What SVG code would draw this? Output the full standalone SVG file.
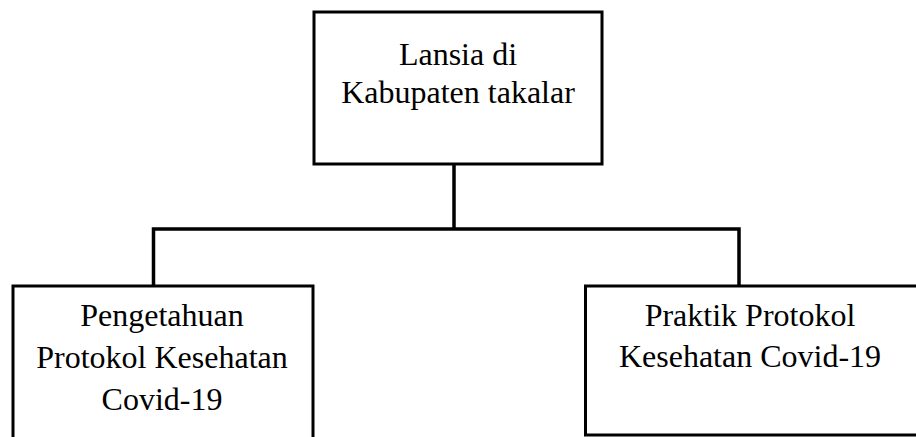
<svg xmlns="http://www.w3.org/2000/svg" width="916" height="437" viewBox="0 0 916 437">
<style>
.box{fill:#fff;stroke:#000;stroke-width:3}
.ln{fill:none;stroke:#000;stroke-width:3.5}
.t{font-family:"Liberation Serif","Times New Roman",serif;font-size:32px;fill:#000;text-anchor:middle}
</style>
<rect width="916" height="437" fill="#fff"/>
<g id="connectors">
<line class="ln" x1="454" y1="164" x2="454" y2="229"/>
<polyline class="ln" points="153.5,286 153.5,229 739,229 739,286"/>
</g>
<g id="n-lansia">
<rect class="box" x="314" y="12" width="288" height="152"/>
<text class="t" x="458" y="65">Lansia di</text>
<text class="t" x="458" y="103">Kabupaten takalar</text>
</g>
<g id="n-pengetahuan">
<rect class="box" x="13" y="286" width="300" height="160"/>
<text class="t" x="162" y="326">Pengetahuan</text>
<text class="t" x="162" y="368">Protokol Kesehatan</text>
<text class="t" x="162" y="410">Covid-19</text>
</g>
<g id="n-praktik">
<rect class="box" x="585.5" y="286" width="335" height="149"/>
<text class="t" x="750" y="326">Praktik Protokol</text>
<text class="t" x="750" y="367">Kesehatan Covid-19</text>
</g>
</svg>
